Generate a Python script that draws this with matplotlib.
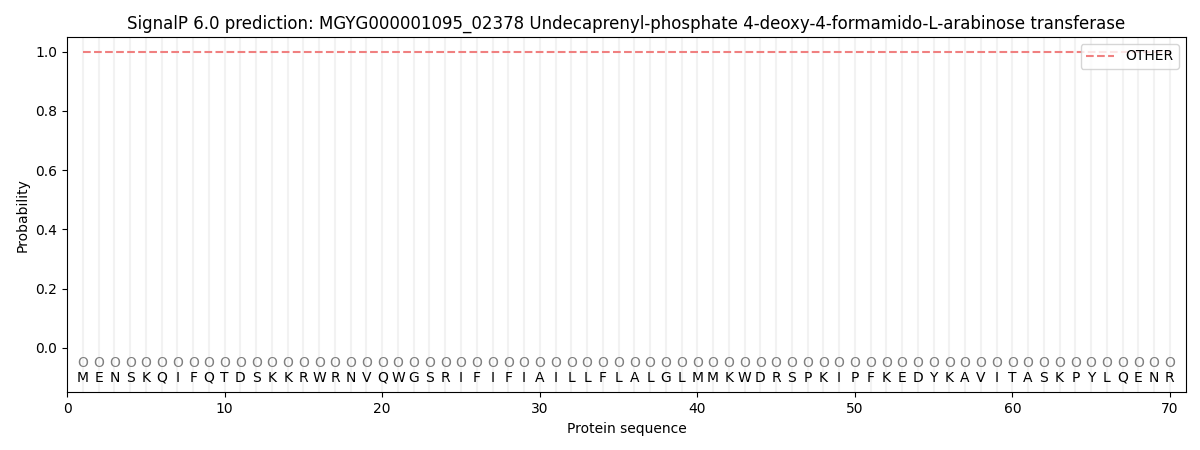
import numpy as np
import matplotlib
matplotlib.use('Agg')
import matplotlib.pyplot as plt

title = "SignalP 6.0 prediction: MGYG000001095_02378 Undecaprenyl-phosphate 4-deoxy-4-formamido-L-arabinose transferase"
sequence = "MENSKQIFQTDSKKRWRNVQWGSRIFIFIAILLFLALGLMMKWDRSPKIPFKEDYKAVITASKPYLQENR"
positions = np.arange(1, len(sequence) + 1)
other_prob = np.ones(len(sequence))
region_labels = ["O"] * len(sequence)

fig, ax = plt.subplots(figsize=(12, 4.5), dpi=100)

# light vertical guide per residue
for p in positions:
    ax.axvline(p, color='#f2f2f2', linewidth=1.5, zorder=0)

ax.plot(positions, other_prob, linestyle='--', color='#f08080', linewidth=1.5, label='OTHER')

for p, aa, reg in zip(positions, sequence, region_labels):
    ax.text(p, -0.05, reg, ha='center', va='center', fontsize=10, color='#808080')
    ax.text(p, -0.1, aa, ha='center', va='center', fontsize=10, color='black')

ax.set_xlim(0, 71)
ax.set_ylim(-0.15, 1.05)
ax.set_xlabel("Protein sequence")
ax.set_ylabel("Probability")
ax.set_title(title)
ax.legend(loc='upper right')

plt.subplots_adjust(left=0.056, right=0.988, top=0.918, bottom=0.128)
plt.savefig('out.png')
